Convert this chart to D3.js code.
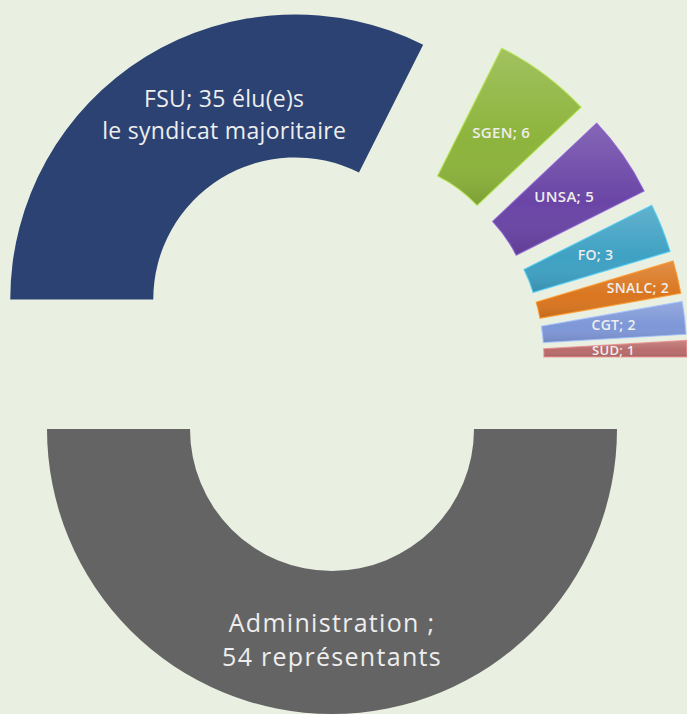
<!DOCTYPE html>
<html>
<head>
<meta charset="utf-8">
<script src="https://cdn.jsdelivr.net/npm/d3@7"></script>
<style>
  body { margin: 0; background: #e9f0e1; }
  svg { display: block; }
</style>
</head>
<body>
<script>
// data
var categories = ["FSU", "SGEN", "UNSA", "FO", "SNALC", "CGT", "SUD", "Administration"];
var values = [35, 6, 5, 3, 2, 2, 1, 54];
var labels = [
    ["FSU; 35 élu(e)s", "le syndicat majoritaire"],
    ["SGEN; 6"],
    ["UNSA; 5"],
    ["FO; 3"],
    ["SNALC; 2"],
    ["CGT; 2"],
    ["SUD; 1"],
    ["Administration ;", "54 représentants"]
];
var colors = ["#2b4273", "#8db43c", "#6a45a6", "#3fa1c3", "#da761f", "#7e97d7", "#b96c6c", "#646464"];

// set the dimensions of the graph
var width = 687,
    height = 714,
    cx = 332, cy = 359,
    outer = 285, inner = 142,
    explode = 70;

// label tweaks (font size, weight, spacing, line height, shift from centroid)
var labelSize = [23, 15, 15, 14, 14, 14, 13, 25];
var labelWeight = [400, 600, 600, 600, 600, 600, 600, 400];
var labelSpacing = [0.3, 0.3, 0.3, 0.3, 0.3, 0.3, 0.3, 1.3];
var labelLine = [32, 16, 16, 16, 16, 16, 16, 34];
var labelShift = [[41, -4], [0, 0], [0, 0], [0, 0], [30, -7], [0, -2], [-2, -1], [0, -4]];

var svg = d3.select("body").append("svg")
    .attr("width", width)
    .attr("height", height);

// soft bevel look on the small slices
var defs = svg.append("defs");
var grad = defs.append("linearGradient")
    .attr("id", "shade")
    .attr("x1", 0).attr("y1", 0)
    .attr("x2", 0).attr("y2", 1);
grad.append("stop").attr("offset", "0%").style("stop-color", "#fff").style("stop-opacity", 0.18);
grad.append("stop").attr("offset", "60%").style("stop-color", "#fff").style("stop-opacity", 0);
grad.append("stop").attr("offset", "100%").style("stop-color", "#000").style("stop-opacity", 0.12);

var chart = svg.append("g")
    .attr("transform", "translate(" + cx + "," + cy + ")");

var pie = d3.pie()
    .sort(null)
    .startAngle(-Math.PI / 2)
    .endAngle(3 * Math.PI / 2);

var arc = d3.arc().innerRadius(inner).outerRadius(outer);

var slices = pie(values).map(function(d, i) {
    var mid = (d.startAngle + d.endAngle) / 2;
    return {
        arc: d,
        i: i,
        dx: explode * Math.sin(mid),
        dy: -explode * Math.cos(mid)
    };
});

var g = chart.selectAll("g.slice")
    .data(slices)
    .enter().append("g")
    .attr("class", "slice")
    .attr("transform", function(d) { return "translate(" + d.dx + "," + d.dy + ")"; });

g.append("path")
    .attr("d", function(d) { return arc(d.arc); })
    .style("fill", function(d) { return colors[d.i]; });

g.filter(function(d) { return d.i > 0 && d.i < 7; })
    .append("path")
    .attr("d", function(d) { return arc(d.arc); })
    .style("fill", "url(#shade)")
    .style("stroke", function(d) { return d3.color(colors[d.i]).brighter(0.7); })
    .style("stroke-width", 1.2)
    .style("stroke-opacity", 0.8);

// labels at the centroid of each slice
g.each(function(d) {
    var c = arc.centroid(d.arc);
    var lines = labels[d.i];
    var lh = labelLine[d.i];
    var x = c[0] + labelShift[d.i][0],
        y = c[1] + labelShift[d.i][1] - (lines.length - 1) * lh / 2;
    var t = d3.select(this).append("text")
        .attr("text-anchor", "middle")
        .attr("dominant-baseline", "central")
        .style("font-family", "'Open Sans', sans-serif")
        .style("font-size", labelSize[d.i] + "px")
        .style("font-weight", labelWeight[d.i])
        .style("letter-spacing", labelSpacing[d.i] + "px")
        .style("fill", "#eeeeee");
    lines.forEach(function(s, k) {
        t.append("tspan")
            .attr("x", x)
            .attr("y", y + k * lh)
            .text(s);
    });
});
</script>
</body>
</html>
